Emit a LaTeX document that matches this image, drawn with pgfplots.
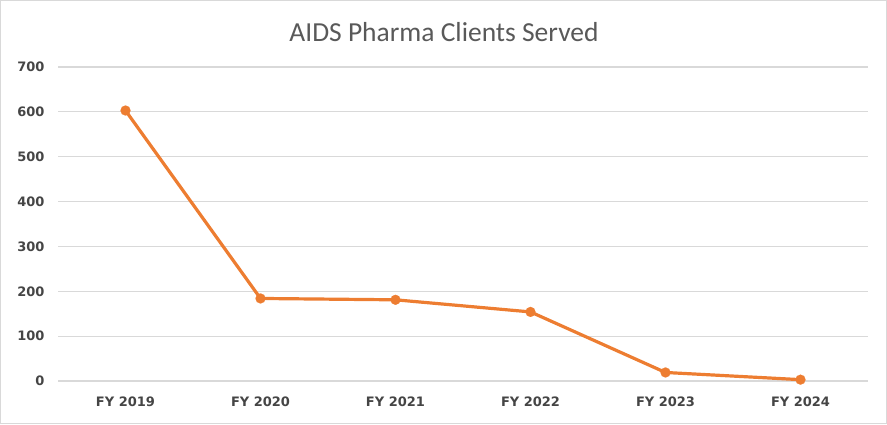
\documentclass[border=0pt]{standalone}
\usepackage{pgfplots}
\pgfplotsset{compat=1.18}
\usepackage{fontspec}
\setmainfont{Carlito}
\newfontfamily\tickfont{DejaVu Sans}
\definecolor{lineor}{HTML}{ED7D31}
\definecolor{gridg}{HTML}{D9D9D9}
\definecolor{txtg}{HTML}{595959}
\definecolor{tickg}{HTML}{454545}
\begin{document}
\begin{tikzpicture}[x=1pt,y=1pt]
\draw[gridg, line width=1.2pt] (0.6,0.6) rectangle (886.4,423.4);
\node[txtg, font=\fontsize{27.5}{32}\selectfont] at (444,392) {AIDS Pharma Clients Served};
\begin{axis}[
  at={(58pt,43pt)}, anchor=south west,
  scale only axis, width=810pt, height=314pt,
  xmin=-0.5, xmax=5.5, ymin=0, ymax=700,
  xtick={0,1,2,3,4,5},
  xticklabels={FY 2019,FY 2020,FY 2021,FY 2022,FY 2023,FY 2024},
  ytick={0,100,...,700},
  ymajorgrids, grid style={gridg, line width=1.2pt},
  axis line style={draw=none},
  major tick length=0pt,
  tick label style={font=\tickfont\bfseries\fontsize{13}{15}\selectfont, text=tickg},
  /pgf/number format/assume math mode=true,
  yticklabel style={xshift=-10pt},
  xticklabel style={yshift=-12pt},
  clip=false,
]
\addplot[lineor, line width=3.2pt, mark=*, mark size=5pt, mark options={fill=lineor, draw=lineor, line width=0.1pt}]
  coordinates {(0,603) (1,184) (2,181) (3,154) (4,19) (5,3)};
\end{axis}
\end{tikzpicture}
\end{document}
